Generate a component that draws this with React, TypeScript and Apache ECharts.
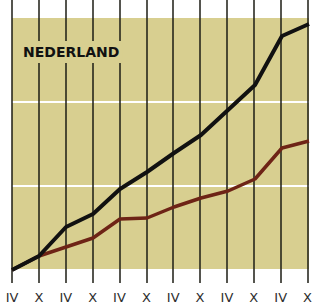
import React, { useEffect, useRef } from "react";
import * as echarts from "echarts";

const categories = ["IV", "X", "IV", "X", "IV", "X", "IV", "X", "IV", "X", "IV", "X"];
const blackSeries = [0, 14, 43, 56, 81, 98, 117, 135, 160, 185, 234, 246];
const redSeries = [0, 14, 23, 32, 51, 52, 63, 72, 79, 91, 122, 129];
const title = "NEDERLAND";

const BEIGE = "#d8cf90";

export default function App() {
  const ref = useRef<HTMLDivElement>(null);
  useEffect(() => {
    if (!ref.current) return;
    const chart = echarts.init(ref.current, undefined, { renderer: "svg" });
    chart.setOption({
      animation: false,
      backgroundColor: "#ffffff",
      grid: [
        { left: 12, right: 6, top: 17, bottom: 34, show: true, backgroundColor: BEIGE, borderWidth: 0 },
        { left: 12, right: 6, top: 0, bottom: 21, show: false },
      ],
      xAxis: [
        {
          type: "category",
          gridIndex: 0,
          data: categories,
          boundaryGap: false,
          axisLine: { show: false },
          axisTick: { show: false },
          axisLabel: { show: false },
          splitLine: { show: false },
        },
        {
          type: "category",
          gridIndex: 1,
          data: categories,
          boundaryGap: false,
          axisLine: { show: false },
          axisTick: { show: false },
          axisLabel: {
            show: true,
            margin: 8,
            fontFamily: "DejaVu Sans",
            fontSize: 13,
            color: "#2e2e2e",
            interval: 0,
          },
          splitLine: { show: true, interval: 0, lineStyle: { color: "#1c1c14", width: 1.5 } },
        },
      ],
      yAxis: [
        {
          type: "value",
          gridIndex: 0,
          min: 0,
          max: 253,
          interval: 253 / 3,
          axisLine: { show: false },
          axisTick: { show: false },
          axisLabel: { show: false },
          splitLine: { show: true, lineStyle: { color: "#ffffff", width: 2 } },
        },
        {
          type: "value",
          gridIndex: 1,
          show: false,
          splitLine: { show: false },
        },
      ],
      graphic: [
        {
          type: "text",
          left: 20,
          top: 41,
          z: 10,
          style: {
            text: title,
            font: "bold 14px 'DejaVu Sans'",
            fill: "#111111",
            backgroundColor: BEIGE,
            padding: [4, 3, 4, 3],
          },
        },
      ],
      series: [
        {
          type: "line",
          xAxisIndex: 0,
          yAxisIndex: 0,
          data: redSeries,
          symbol: "none",
          lineStyle: { color: "#6e2416", width: 3.5 },
          z: 3,
        },
        {
          type: "line",
          xAxisIndex: 0,
          yAxisIndex: 0,
          data: blackSeries,
          symbol: "none",
          lineStyle: { color: "#111111", width: 4 },
          z: 4,
        },
      ],
    });
    return () => chart.dispose();
  }, []);
  return <div ref={ref} style={{ width: 315, height: 304, position: "absolute", left: 0, top: 0 }} />;
}
